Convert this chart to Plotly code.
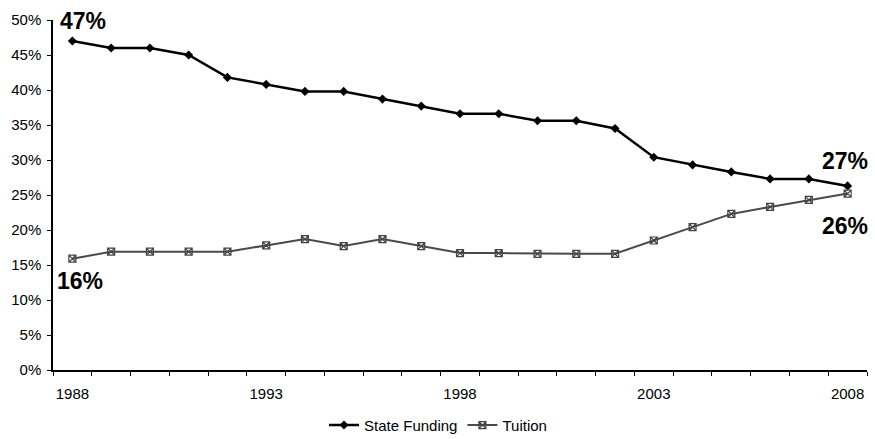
import plotly.graph_objects as go

years = list(range(1988, 2009))
state_funding = [47.0, 46.0, 46.0, 45.0, 41.8, 40.8, 39.8, 39.8, 38.7, 37.7, 36.6,
                 36.6, 35.6, 35.6, 34.5, 30.4, 29.3, 28.3, 27.3, 27.3, 26.3]
tuition = [15.9, 16.9, 16.9, 16.9, 16.9, 17.8, 18.7, 17.7, 18.7, 17.7, 16.7,
           16.7, 16.6, 16.6, 16.6, 18.5, 20.4, 22.3, 23.3, 24.3, 25.2]
x_labels = [1988, 1993, 1998, 2003, 2008]
y_ticks = [0, 5, 10, 15, 20, 25, 30, 35, 40, 45, 50]

font = "Liberation Sans, Arial, sans-serif"

fig = go.Figure()
fig.add_trace(go.Scatter(
    x=years, y=state_funding, name="State Funding", mode="lines+markers",
    line=dict(color="#000000", width=2.5),
    marker=dict(symbol="diamond", size=7, color="#000000"),
))
fig.add_trace(go.Scatter(
    x=years, y=tuition, name="Tuition", mode="lines+markers",
    line=dict(color="#4a4a4a", width=2),
    marker=dict(symbol="square-x-open", size=7, color="#444444",
                line=dict(width=1.2)),
))

ann_font = dict(family=font, size=23, color="#000000")
fig.add_annotation(x=years[0], y=state_funding[0], text="<b>47%</b>", showarrow=False,
                   xshift=11, yshift=20, font=ann_font)
fig.add_annotation(x=years[-1], y=state_funding[-1], text="<b>27%</b>", showarrow=False,
                   xshift=-3, yshift=25, font=ann_font)
fig.add_annotation(x=years[-1], y=tuition[-1], text="<b>26%</b>", showarrow=False,
                   xshift=-3, yshift=-32, font=ann_font)
fig.add_annotation(x=years[0], y=tuition[0], text="<b>16%</b>", showarrow=False,
                   xshift=8, yshift=-22, font=ann_font)

fig.update_layout(
    width=875, height=439,
    margin=dict(l=53, r=8, t=20, b=69, autoexpand=False),
    paper_bgcolor="white", plot_bgcolor="white",
    font=dict(family=font, size=15, color="#000000"),
    showlegend=True,
    legend=dict(orientation="h", x=0.473, xanchor="center", y=-0.158, yanchor="middle",
                font=dict(size=15), itemwidth=30, tracegroupgap=0),
)
fig.update_xaxes(
    range=[1987.5, 2008.5],
    tickmode="array", tickvals=x_labels, ticktext=[str(v) for v in x_labels],
    ticks="outside", ticklen=9, tickcolor="rgba(0,0,0,0)",
    showline=True, linecolor="#000000", linewidth=1.5,
    showgrid=False, zeroline=False,
    minor=dict(tick0=1987.5, dtick=1, ticks="outside", ticklen=4,
               tickcolor="#000000", showgrid=False),
)
fig.update_yaxes(
    range=[0, 50],
    tickmode="array", tickvals=y_ticks, ticktext=[f"{v}%" for v in y_ticks],
    ticks="outside", ticklen=4, tickcolor="#000000",
    ticklabelstandoff=3,
    showline=True, linecolor="#000000", linewidth=1.5,
    showgrid=False, zeroline=False,
)

fig.write_html("out.html", config={"displayModeBar": False},
               post_script="document.body.style.margin='0';")
